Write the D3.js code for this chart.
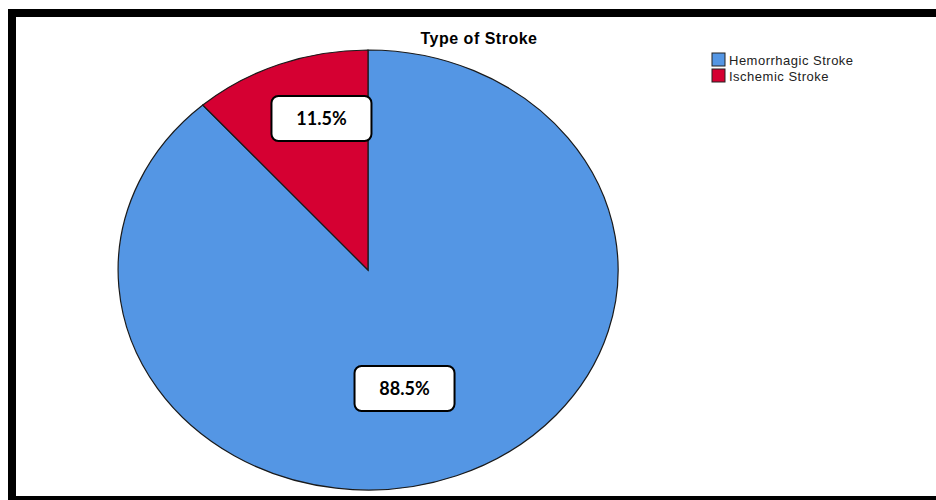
<!DOCTYPE html>
<html>
<head>
<meta charset="utf-8">
<script src="https://cdn.jsdelivr.net/npm/d3@7"></script>
<style>
  body { margin: 0; background: #fff; }
  svg { display: block; }
</style>
</head>
<body>
<div id="chart"></div>
<script>
// data
var categories = ['Hemorrhagic Stroke', 'Ischemic Stroke'];
var percents = [88.5, 11.5];
var colors = ['#5496e4', '#d50032'];
var titleText = 'Type of Stroke';

var width = 936,
    height = 500;

var svg = d3.select('#chart')
            .append('svg')
            .attr('width', width)
            .attr('height', height);

// heavy frame round the picture (right side runs off the page)
svg.append('rect')
   .attr('x', 12).attr('y', 13)
   .attr('width', 960).attr('height', 487)
   .attr('fill', '#fff')
   .attr('stroke', '#000')
   .attr('stroke-width', 8);

svg.append('text')
   .attr('x', 479).attr('y', 44)
   .attr('text-anchor', 'middle')
   .style('font-family', '"Liberation Sans", Arial, sans-serif')
   .style('font-weight', 'bold')
   .style('font-size', '16px')
   .style('letter-spacing', '0.5px')
   .text(titleText);

// the pie is drawn on a unit circle and stretched into an ellipse
var cx = 368, cy = 270,
    rx = 250, ry = 220;

var pie = d3.pie().sort(null).value(function(d) { return d; });
var arcs = pie(percents);
var arc = d3.arc().innerRadius(0).outerRadius(1);

var g = svg.append('g')
           .attr('transform', 'translate(' + cx + ',' + cy + ') scale(' + rx + ',' + ry + ')');

g.selectAll('path')
 .data(arcs)
 .enter()
 .append('path')
 .attr('d', arc)
 .attr('fill', function(d, i) { return colors[i]; })
 .attr('stroke', '#1a1a1a')
 .attr('stroke-width', 1.2)
 .attr('vector-effect', 'non-scaling-stroke');

// value labels in rounded boxes
var labels = svg.selectAll('.lbl')
  .data(arcs)
  .enter()
  .append('g')
  .attr('class', 'lbl')
  .attr('transform', function(d) {
    var a = (d.startAngle + d.endAngle) / 2;
    var x = cx - 5 + rx * 0.47 * Math.sin(a);
    var y = cy - 17 - ry * 0.656 * Math.cos(a);
    return 'translate(' + x + ',' + y + ')';
  });

labels.append('rect')
  .attr('x', -50).attr('y', -22)
  .attr('width', 100).attr('height', 45)
  .attr('rx', 7)
  .attr('fill', '#fff')
  .attr('stroke', '#000')
  .attr('stroke-width', 2);

labels.append('text')
  .attr('text-anchor', 'middle')
  .attr('y', 7)
  .style('font-family', 'Lato, "Open Sans", sans-serif')
  .style('font-weight', 'bold')
  .style('font-size', '18px')
  .text(function(d) { return d.data.toFixed(1) + '%'; });

// legend
var legend = svg.selectAll('.leg')
  .data(categories)
  .enter()
  .append('g')
  .attr('class', 'leg')
  .attr('transform', function(d, i) { return 'translate(712,' + (53 + i * 16) + ')'; });

legend.append('rect')
  .attr('width', 13).attr('height', 13)
  .attr('fill', function(d, i) { return colors[i]; })
  .attr('stroke', '#222')
  .attr('stroke-width', 1);

legend.append('text')
  .attr('x', 17).attr('y', 11.5)
  .style('font-family', '"Liberation Sans", Arial, sans-serif')
  .style('font-size', '13px')
  .style('letter-spacing', '0.5px')
  .attr('fill', '#222')
  .text(function(d) { return d; });
</script>
</body>
</html>
